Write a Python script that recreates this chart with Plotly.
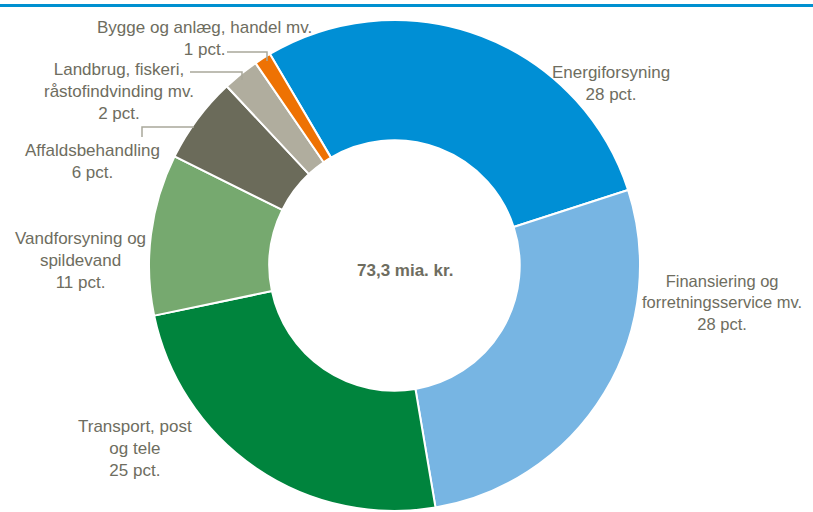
import plotly.graph_objects as go

W, H = 813, 512

# Data (shares of 73,3 mia. kr.)
categories = [
    "Energiforsyning",
    "Finansiering og forretningsservice mv.",
    "Transport, post og tele",
    "Vandforsyning og spildevand",
    "Affaldsbehandling",
    "Landbrug, fiskeri, råstofindvinding mv.",
    "Bygge og anlæg, handel mv.",
]
values = [28.5, 27.3, 24.4, 10.6, 5.7, 2.4, 1.1]
pct_labels = ["28 pct.", "28 pct.", "25 pct.", "11 pct.", "6 pct.", "2 pct.", "1 pct."]
label_text = [
    "Energiforsyning",
    "Finansiering og<br>forretningsservice mv.",
    "Transport, post<br>og tele",
    "Vandforsyning og<br>spildevand",
    "Affaldsbehandling",
    "Landbrug, fiskeri,<br>råstofindvinding mv.",
    "Bygge og anlæg, handel mv.",
]
center_text = "73,3 mia. kr."

colors = ["#008fd5", "#77b5e3", "#00843d", "#76a96f", "#6b6b5a", "#b0ad9e", "#ee7203"]
text_color = "#6e6d60"
FONT = "Liberation Sans, Arial, sans-serif"

def px(x):
    return x / W

def py(y):
    return 1 - y / H

cx, cy, r = 394.5, 265.5, 245.5

fig = go.Figure(go.Pie(
    labels=categories,
    values=values,
    hole=0.51,
    sort=False,
    direction="clockwise",
    rotation=-30.5,
    marker=dict(colors=colors, line=dict(color="white", width=2)),
    textinfo="none",
    hoverinfo="label+percent",
    domain=dict(x=[px(cx - r), px(cx + r)], y=[py(cy + r), py(cy - r)]),
    showlegend=False,
))

# label anchor positions (pixel centres of text blocks) and sizes
label_pos = [
    (611, 83), (722, 302), (135, 448), (80, 260), (92, 161), (119, 91), (204, 38),
]
label_size = [17, 16.5, 17, 17, 17, 17, 17]
annotations = []
for txt, pct, (x, y), s in zip(label_text, pct_labels, label_pos, label_size):
    annotations.append(dict(
        text=f"{txt}<br>{pct}", x=px(x), y=py(y), xref="paper", yref="paper",
        showarrow=False, xanchor="center", yanchor="middle", align="center",
        font=dict(family=FONT, size=s, color=text_color),
    ))
annotations.append(dict(
    text=f"<b>{center_text}</b>", x=px(405), y=py(270), xref="paper", yref="paper",
    showarrow=False, font=dict(family=FONT, size=17, color=text_color),
))

leader = "#a9a89b"
def path(points):
    return "M " + " L ".join(f"{px(x)},{py(y)}" for x, y in points)

shapes = [
    dict(type="line", xref="paper", yref="paper", x0=0, x1=1, y0=py(5.5), y1=py(5.5),
         line=dict(color="#0090d0", width=3)),
    dict(type="path", xref="paper", yref="paper", path=path([(227, 52), (267, 52), (267, 61)]),
         line=dict(color=leader, width=1.5)),
    dict(type="path", xref="paper", yref="paper", path=path([(190, 72), (242, 72), (242, 80)]),
         line=dict(color=leader, width=1.5)),
    dict(type="path", xref="paper", yref="paper", path=path([(142, 137), (142, 127), (194, 127)]),
         line=dict(color=leader, width=1.5)),
]

fig.update_layout(
    width=W, height=H,
    margin=dict(l=0, r=0, t=0, b=0),
    paper_bgcolor="white", plot_bgcolor="white",
    annotations=annotations, shapes=shapes,
)

fig.write_html("out.html", config={"displayModeBar": False},
               post_script="document.body.style.margin='0';")
